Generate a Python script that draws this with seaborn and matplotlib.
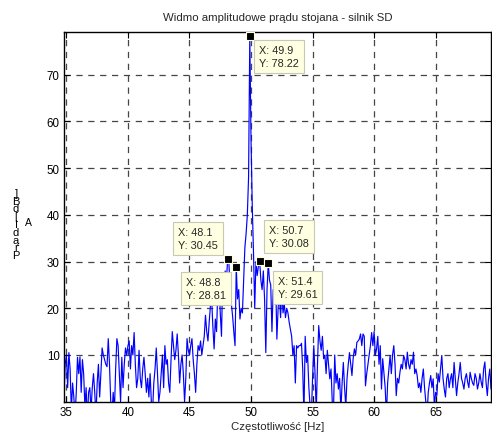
import numpy as np
import pandas as pd
import matplotlib
matplotlib.use("Agg")
import matplotlib.pyplot as plt
import seaborn as sns

sns.set_style("ticks")
plt.rcParams["font.family"] = ["Liberation Sans", "DejaVu Sans"]

# ---------------- data ----------------
title = "Widmo amplitudowe prądu stojana - silnik SD"
xlabel = "Częstotliwość [Hz]"
ylabel_column = ["]", "B", "d", "[", "I", "d", "ą", "r", "P"]
ylabel_sub = "A"

f_start = 34.8   # Hz
f_step = 0.1     # Hz
amplitude = [
    1, 8,
    10, 3, 10.5, 7, -2, 4, 1, -3, 2, 9.5,          # 35
    6, 9.6, 2, 9, 6, -1, 3, -4, 2, 3,              # 36
    -2, 3, 6, 2, -3, 4, 8, 1, 6, 11.5,             # 37
    10, 9, 8, 7.5, 13.5, 8, 0, -3, 2, -2,          # 38
    7, 13.5, 12, 6, 0, 9.5, 3, 8, 11.5, 10,        # 39
    12, 13, 7, 12, 10, 14.8, 8, 3, 5, 11,          # 40
    5, 3, 7, 9.5, 6, 2, 5, 1, 6, 0,                # 41
    -2, 4, 7, 11.5, 6, 0, 2, 6, 10, 3,             # 42
    12, 8, 9, 4, 2, 9, 15, 12, 9, 11,              # 43
    14.5, 10, 4, 8, 10, 6, 0, 5, 13.5, 11,         # 44
    10, 12, 13.5, 9, 6, 2, 8, 12, 11, 13,          # 45
    10, 12, 14, 18.5, 15, 13, 17, 20.5, 22, 16,    # 46
    11.3, 17.7, 15, 24, 25.6, 19, 14, 27, 22, 28,  # 47
    26, 30.45, 29.8, 24, 21, 18.4, 15, 12, 28.81, 22,  # 48
    24, 17.7, 20, 19, 26, 33, 36, 40, 48, 78.22,   # 49
    56, 42, 32, 20, 30, 27, 29, 30.08, 26, 24,     # 50
    28, 22, 10.5, 24, 29.61, 26, 25, 15, 24, 22,   # 51
    26, 13.4, 20, 23, 18, 24, 19, 21, 18, 20,      # 52
    19, 17, 15.5, 14, 10, 12, 4, 12, 11.5, 12,     # 53
    12, 12.5, 7, -3, 14, 8.4, 9.8, 3, -1, -3,      # 54
    5, 12, 6, -2, 8, 16.3, 13, 11, 14, 9.2,        # 55
    10, 6, 11, 8, 4.9, 7, 0, -2, 10, 4,            # 56
    6, 2.7, 5, -2, 4, 8.4, 3, -1, 5, 8,            # 57
    10.5, 8, 5.6, 9.3, 11.3, 10, 12.7, 13, 13.4, 14.5,  # 58
    12, 14.5, 14, 3.4, 6, 8, 9.9, 12, 14.8, 12,    # 59
    15, 9.9, 11.3, 14, 8, 12, 2.7, 9.2, 6, 3,      # 60
    -3, 4, 7, 9.9, 6, 10, 12, 8, 1.3, 5,           # 61
    4, 6.3, 8, 7, 9.9, 9, 7, 10.6, 8, 7,           # 62
    9, 8, 10.6, 6, 7, 5.6, 3, 4, 2, 5,             # 63
    7, 3, 0, -3, 2, 4, 5.6, 3, 4.9, -1,            # 64
    2, 1.3, 6, 4.2, 7, 9.9, 5, 2.7, 1, 5,          # 65
    6, 3, 4.9, 6, 3, 8.4, 5, 1.3, 4, 6,            # 66
    8.4, 5, 4, 2.7, 5, 6, 4.2, 3, 6.3, 5,          # 67
    4, 3.5, 6, 5, 2.7, 4, 6, 4.2, 3, 7,            # 68
    8.5, 4, 1.3, 5, 7, 2.7,                        # 69
]
freq = np.round(f_start + f_step * np.arange(len(amplitude)), 1)

tip_x = [49.9, 48.1, 50.7, 48.8, 51.4]
tip_y = [78.22, 30.45, 30.08, 28.81, 29.61]

x_ticks = [35, 40, 45, 50, 55, 60, 65]
y_ticks = [10, 20, 30, 40, 50, 60, 70]

df = pd.DataFrame({"f": freq, "a": amplitude})
tips = pd.DataFrame({"x": tip_x, "y": tip_y})

# ---------------- figure ----------------
fig = plt.figure(figsize=(4.92, 4.35), dpi=100)
ax = fig.add_axes([0.130, 0.0743, 0.868, 0.8497])

sns.lineplot(data=df, x="f", y="a", ax=ax, color="#0000ff", lw=0.85,
             estimator=None, sort=False)

ax.set_xlim(34.8, 69.5)
ax.set_ylim(0, 79.15)
ax.set_xticks(x_ticks)
ax.set_yticks(y_ticks)
ax.tick_params(direction="in", top=True, right=True, length=4, width=0.8,
               labelsize=8.3, pad=3, colors="black")
ax.grid(True, color="#454545", linestyle=(0, (5, 4.5)), linewidth=0.9)
for s in ax.spines.values():
    s.set_linewidth(1.0)
    s.set_color("black")
    s.set_visible(True)

# data tip markers
sns.scatterplot(data=tips, x="x", y="y", ax=ax, marker="s", s=40,
                color="black", edgecolor="#ffffe1", linewidth=0.8,
                zorder=5, clip_on=False, legend=False)

ax.set_title(title, fontsize=8.2, pad=9)
ax.set_xlabel(xlabel, fontsize=8.2, labelpad=2)
ax.set_ylabel("")

# offsets (pixels) and alignment for each tip
tip_layout = [
    (9.3, -8.5, "left", "top"),
    (-9.6, 9.4, "right", "bottom"),
    (9.5, 13.1, "left", "bottom"),
    (-10.2, -9.4, "right", "top"),
    (9.6, -12.5, "left", "top"),
]
for (x, y), (dx, dy, ha, va) in zip(zip(tip_x, tip_y), tip_layout):
    ax.annotate(f"X: {x}\nY: {y}", xy=(x, y), xytext=(dx, dy),
                textcoords="offset pixels", ha=ha, va=va,
                multialignment="left", fontsize=7.8,
                linespacing=1.4, zorder=6, annotation_clip=False,
                bbox=dict(boxstyle="square,pad=0.45", fc="#ffffe1",
                          ec="#c8c8b4", lw=0.8))

# y label drawn as in the original (upright glyphs stacked vertically)
W, H = 492, 435
fig.text(16 / W, 1 - 225 / H, "\n".join(ylabel_column), fontsize=8,
         ha="center", va="center", linespacing=0.72, color="black")
fig.text(28 / W, 1 - 223 / H, ylabel_sub, fontsize=7.5, ha="center",
         va="center", color="black")

fig.savefig("out.png", dpi=100)
